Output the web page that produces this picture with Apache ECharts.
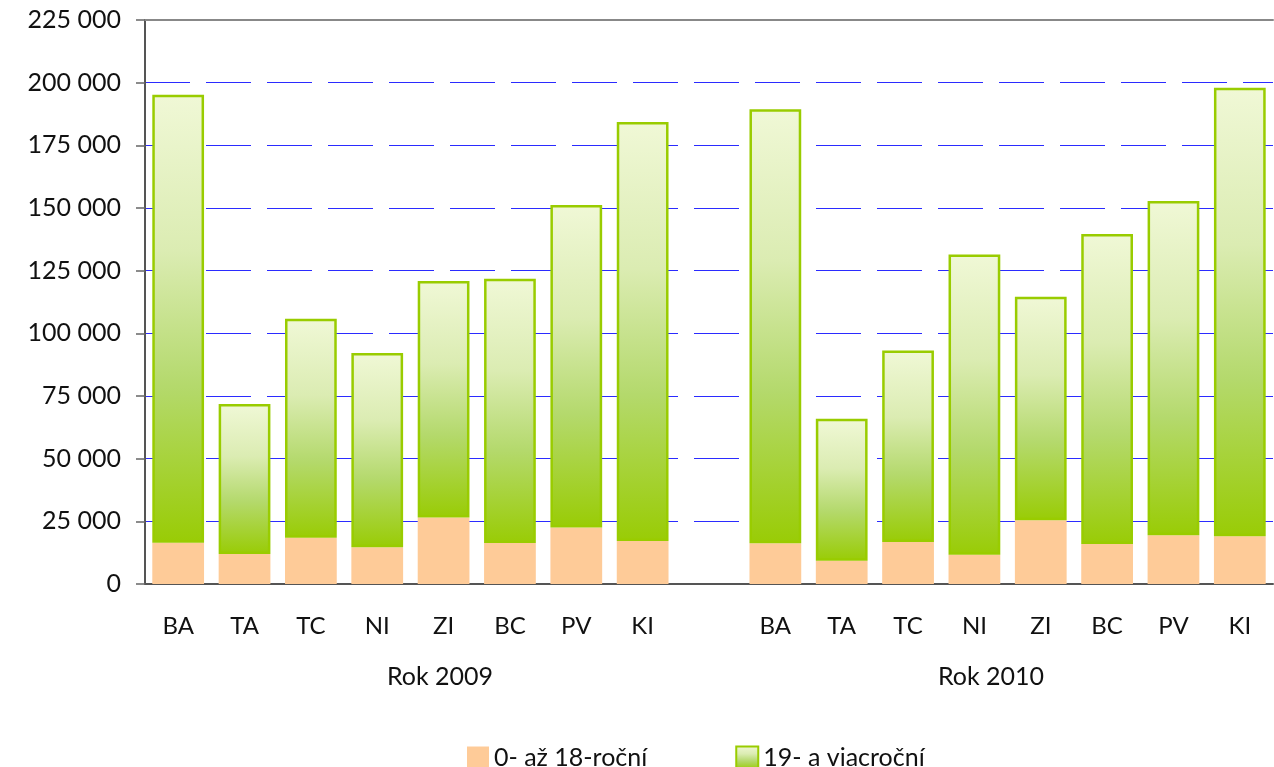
<!DOCTYPE html>
<html>
<head>
<meta charset="utf-8">
<script src="https://cdn.jsdelivr.net/npm/echarts@6/dist/echarts.min.js"></script>
<style>
html, body { margin: 0; padding: 0; background: #fff; }
#chart { width: 1274px; height: 767px; }
</style>
</head>
<body>
<div id="chart"></div>
<script>
// kraje, dva roky vedla seba s prazdnou medzerou
var regions = ['BA', 'TA', 'TC', 'NI', 'ZI', 'BC', 'PV', 'KI'];
var categories = regions.concat(['']).concat(regions);
var years = ['Rok 2009', 'Rok 2010'];

var young2009 = [16500, 12000, 18500, 14700, 26500, 16400, 22500, 17200];
var adult2009 = [178700, 59800, 87300, 77500, 94400, 105400, 128700, 167100];
var young2010 = [16300, 9300, 16800, 11700, 25400, 16000, 19400, 19000];
var adult2010 = [173100, 56600, 76400, 119700, 89200, 123600, 133400, 179000];

var yTicks = [0, 25000, 50000, 75000, 100000, 125000, 150000, 175000, 200000, 225000];
var yLabels = ['0', '25 000', '50 000', '75 000', '100 000', '125 000', '150 000', '175 000', '200 000', '225 000'];

var font = 'Lato, "Open Sans", sans-serif';
var blue = '#2b2bff';

var myChart = echarts.init(document.getElementById('chart'));
myChart.setOption({
    animation: false,
    grid: { left: 145, right: 1, top: 20, bottom: 183 },
    legend: {
        left: 462,
        top: 740,
        itemWidth: 22,
        itemHeight: 22,
        itemGap: 88,
        icon: 'rect',
        textStyle: { fontFamily: font, fontSize: 25, color: '#111' },
        data: ['0- až 18-roční', '19- a viacroční']
    },
    xAxis: [{
        type: 'category',
        data: categories,
        axisLine: { lineStyle: { color: '#555', width: 2 } },
        axisTick: { length: 10, lineStyle: { color: '#666', width: 1.5 } },
        axisLabel: { margin: 30, fontFamily: font, fontSize: 24, color: '#111' }
    }, {
        type: 'category',
        data: years,
        position: 'bottom',
        axisLine: { show: false },
        axisTick: { show: false },
        axisLabel: {
            margin: 80,
            fontFamily: font,
            fontSize: 25,
            color: '#111',
            formatter: function (v, i) { return i === 0 ? '{a|' + v + '}' : v; },
            rich: { a: { fontFamily: font, fontSize: 25, color: '#111', padding: [0, 0, 0, 26] } }
        }
    }, {
        type: 'category',
        data: years,
        position: 'top',
        axisLine: { lineStyle: { color: '#888', width: 2 } },
        axisTick: { show: false },
        axisLabel: { show: false }
    }],
    yAxis: {
        type: 'value',
        min: 0,
        max: 225000,
        interval: 25000,
        axisLine: { show: true, lineStyle: { color: '#555', width: 2 } },
        axisTick: { show: true, length: 9, lineStyle: { color: '#666', width: 1.5 } },
        axisLabel: {
            margin: 24,
            fontFamily: font,
            fontSize: 25,
            color: '#111',
            formatter: function (v) { return yLabels[yTicks.indexOf(v)]; }
        },
        splitLine: {
            lineStyle: {
                color: [blue, blue, blue, blue, blue, blue, blue, blue, blue, 'rgba(0,0,0,0)'],
                width: 1.2,
                type: [45, 16]
            }
        }
    },
    series: [{
        name: '0- až 18-roční',
        type: 'bar',
        stack: 'vek',
        barWidth: '78%',
        itemStyle: { color: '#fecb98' },
        data: young2009.concat([null]).concat(young2010)
    }, {
        name: '19- a viacroční',
        type: 'bar',
        stack: 'vek',
        barWidth: '78%',
        itemStyle: {
            color: new echarts.graphic.LinearGradient(0, 0, 0, 1, [
                { offset: 0, color: '#f0f8d6' },
                { offset: 0.35, color: '#dbecb2' },
                { offset: 0.65, color: '#b4d96c' },
                { offset: 1, color: '#99cc05' }
            ]),
            borderColor: '#99cc00',
            borderWidth: 2.5
        },
        data: adult2009.concat([null]).concat(adult2010)
    }]
});
</script>
</body>
</html>
